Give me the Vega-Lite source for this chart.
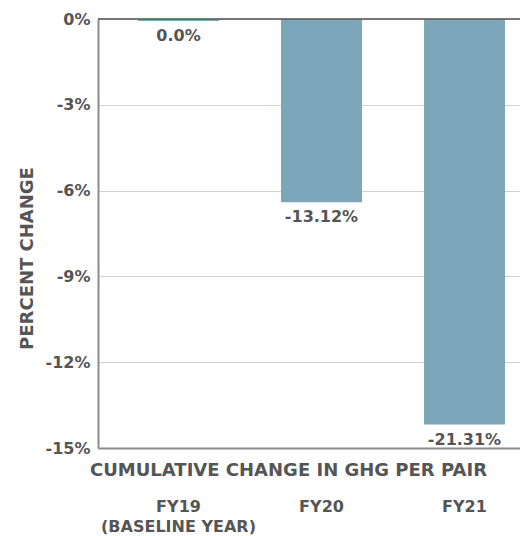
{
  "$schema": "https://vega.github.io/schema/vega-lite/v6.json",
  "autosize": "none",
  "padding": {"left": 98, "top": 19, "right": 0, "bottom": 89},
  "width": 447,
  "height": 429,
  "background": "white",
  "data": {
    "values": [
      {"year": "FY19", "value": -0.07, "label": "0.0%"},
      {"year": "FY20", "value": -6.41, "label": "-13.12%"},
      {"year": "FY21", "value": -14.18, "label": "-21.31%"}
    ]
  },
  "config": {
    "view": {"stroke": null},
    "font": "DejaVu Sans"
  },
  "layer": [
    {
      "mark": {"type": "bar", "color": "#7BA5B9"},
      "encoding": {
        "x": {
          "field": "year",
          "type": "nominal",
          "sort": null,
          "scale": {"paddingInner": 0.434, "paddingOuter": 0.28},
          "axis": {
            "title": "CUMULATIVE CHANGE IN GHG PER PAIR",
            "titleFont": "DejaVu Sans",
            "titleFontSize": 18,
            "titleFontWeight": "bold",
            "titleColor": "#555555",
            "titleAlign": "center",
            "titleAnchor": null,
            "titleBaseline": "alphabetic",
            "titleX": 190,
            "titleY": 27,
            "labelAngle": 0,
            "labelFont": "DejaVu Sans",
            "labelFontSize": 16,
            "labelFontWeight": "bold",
            "labelColor": "#555555",
            "labelBaseline": "alphabetic",
            "labelPadding": 63,
            "labelLineHeight": 20,
            "labelExpr": "datum.value == 'FY19' ? ['FY19', '(BASELINE YEAR)'] : datum.value",
            "ticks": false,
            "tickSize": 0,
            "domainColor": "#8c8c8c",
            "domainWidth": 2,
            "grid": false
          }
        },
        "y": {
          "field": "value",
          "type": "quantitative",
          "scale": {"domain": [-15, 0], "nice": false},
          "axis": {
            "title": "PERCENT CHANGE",
            "titleFont": "DejaVu Sans",
            "titleFontSize": 18,
            "titleFontWeight": "bold",
            "titleColor": "#555555",
            "titleAngle": -90,
            "titleAlign": "center",
            "titleBaseline": "middle",
            "titleAnchor": null,
            "titleX": -71,
            "titleY": 239,
            "values": [0, -3, -6, -9, -12, -15],
            "labelExpr": "datum.value + '%'",
            "labelFont": "DejaVu Sans",
            "labelFontSize": 16,
            "labelFontWeight": "bold",
            "labelColor": "#555555",
            "labelPadding": 8,
            "ticks": false,
            "tickSize": 0,
            "domainColor": "#8c8c8c",
            "domainWidth": 2,
            "grid": true,
            "gridColor": "#d0d0d0",
            "gridWidth": 1.2
          }
        }
      }
    },
    {
      "mark": {"type": "rule", "color": "#666666", "strokeWidth": 1.2},
      "encoding": {"y": {"datum": 0}}
    },
    {
      "mark": {"type": "text", "baseline": "top", "align": "center", "dy": 7, "font": "DejaVu Sans", "fontSize": 16, "fontWeight": "bold", "color": "#555555"},
      "encoding": {
        "x": {"field": "year", "type": "nominal", "sort": null},
        "y": {"field": "value", "type": "quantitative"},
        "text": {"field": "label"}
      }
    }
  ]
}
